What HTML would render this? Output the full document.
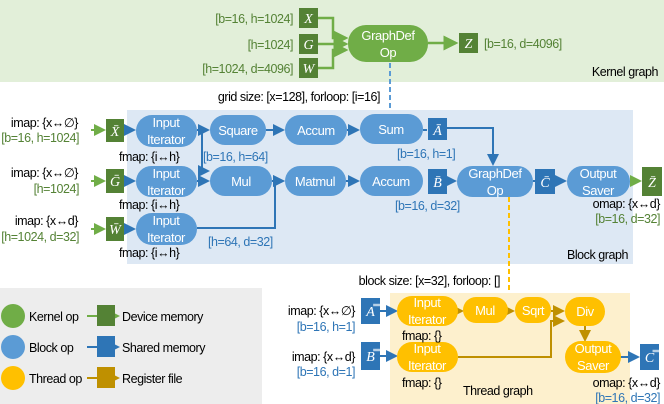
<!DOCTYPE html>
<html><head><meta charset="utf-8"><style>
body{margin:0;background:#fff}
svg{display:block}
text{font-family:"Liberation Sans",Arial,sans-serif;font-size:12.5px;letter-spacing:-0.45px}
.w{fill:#fff;text-anchor:middle;font-size:13px;letter-spacing:-0.4px}
.k{fill:#000}
.g{fill:#548235}
.b{fill:#2e75b6}
.m{font-family:"Liberation Serif",serif;font-style:italic;fill:#fff;text-anchor:middle;font-size:14px;letter-spacing:0}
</style></head><body>
<svg width="664" height="404" viewBox="0 0 664 404" xmlns="http://www.w3.org/2000/svg">
<defs>
<marker id="ag" markerWidth="6" markerHeight="6" refX="5" refY="3" orient="auto"><path d="M0,0L6,3L0,6z" fill="#70ad47"/></marker>
<marker id="ab" markerWidth="6" markerHeight="6" refX="5" refY="3" orient="auto"><path d="M0,0L6,3L0,6z" fill="#2e75b6"/></marker>
<marker id="ao" markerWidth="6" markerHeight="6" refX="5" refY="3" orient="auto"><path d="M0,0L6,3L0,6z" fill="#bf9000"/></marker>
</defs>
<rect x="0" y="0" width="664" height="82" fill="#e2efd9"/>
<rect x="127" y="110" width="506" height="154" fill="#dde8f4"/>
<rect x="390" y="293" width="240" height="111" fill="#fdf0cd"/>
<rect x="0" y="288" width="262" height="116" fill="#ededed"/>
<g fill="none" stroke="#70ad47" stroke-width="2.5">
<path d="M318,18H333V38H346" marker-end="url(#ag)"/>
<path d="M318,44H346" marker-end="url(#ag)"/>
<path d="M318,68H333V50H346" marker-end="url(#ag)"/>
<path d="M428,43H456" marker-end="url(#ag)"/>
</g>
<rect x="348" y="25" width="80" height="37" rx="18" fill="#70ad47"/>
<text class="w" x="388" y="40">GraphDef</text><text class="w" x="388" y="57">Op</text>
<rect x="299" y="8" width="19" height="20" fill="#548235"/><text class="m" x="308.5" y="23">X</text>
<rect x="299" y="34" width="19" height="20" fill="#548235"/><text class="m" x="308.5" y="49">G</text>
<rect x="299" y="58" width="19" height="20" fill="#548235"/><text class="m" x="308.5" y="73">W</text>
<rect x="459" y="33" width="19" height="20" fill="#548235"/><text class="m" x="468.5" y="48">Z</text>
<text class="g" x="293" y="23" text-anchor="end">[b=16, h=1024]</text>
<text class="g" x="293" y="49" text-anchor="end">[h=1024]</text>
<text class="g" x="293" y="73" text-anchor="end">[h=1024, d=4096]</text>
<text class="g" x="484" y="48">[b=16, d=4096]</text>
<text class="k" x="658" y="76" text-anchor="end">Kernel graph</text>
<line x1="390" y1="63" x2="390" y2="110" stroke="#5b9bd5" stroke-width="2" stroke-dasharray="5,3"/>
<text class="k" x="380" y="101" text-anchor="end">grid size: [x=128], forloop: [i=16]</text>
<g fill="none" stroke="#2e75b6" stroke-width="2">
<path d="M124,130H134" marker-end="url(#ab)"/>
<path d="M124,181H134" marker-end="url(#ab)"/>
<path d="M124,229H134" marker-end="url(#ab)"/>
<path d="M197,130H208" marker-end="url(#ab)"/>
<path d="M202,130V171H208" marker-end="url(#ab)"/>
<path d="M197,181H208" marker-end="url(#ab)"/>
<path d="M266,130H283" marker-end="url(#ab)"/>
<path d="M347,130H358" marker-end="url(#ab)"/>
<path d="M423,130H427"/>
<path d="M447,128H493V164" marker-end="url(#ab)"/>
<path d="M272,181H283" marker-end="url(#ab)"/>
<path d="M197,228H275V181H283" marker-end="url(#ab)"/>
<path d="M346,181H358" marker-end="url(#ab)"/>
<path d="M447,181H455" marker-end="url(#ab)"/>
<path d="M533,181H535"/>
<path d="M555,181H565" marker-end="url(#ab)"/>
</g>
<path d="M630,181H640" stroke="#70ad47" stroke-width="2" marker-end="url(#ag)"/>
<path d="M91,130H104" stroke="#70ad47" stroke-width="2" marker-end="url(#ag)" fill="none"/>
<path d="M91,181H104" stroke="#70ad47" stroke-width="2" marker-end="url(#ag)" fill="none"/>
<path d="M91,229H104" stroke="#70ad47" stroke-width="2" marker-end="url(#ag)" fill="none"/>
<g fill="#5b9bd5">
<rect x="136" y="115" width="61" height="32" rx="16"/>
<rect x="210" y="115" width="56" height="30" rx="15"/>
<rect x="285" y="115" width="62" height="30" rx="15"/>
<rect x="360" y="114" width="63" height="30" rx="15"/>
<rect x="136" y="166" width="61" height="31" rx="15.5"/>
<rect x="210" y="166" width="62" height="30" rx="15"/>
<rect x="285" y="166" width="61" height="30" rx="15"/>
<rect x="360" y="166" width="63" height="30" rx="15"/>
<rect x="457" y="166" width="76" height="31" rx="15.5"/>
<rect x="567" y="166" width="63" height="31" rx="15.5"/>
<rect x="136" y="213" width="61" height="32" rx="16"/>
</g>
<text class="w" x="166" y="127">Input</text><text class="w" x="166" y="144">Iterator</text>
<text class="w" x="238" y="135">Square</text>
<text class="w" x="316" y="135">Accum</text>
<text class="w" x="391" y="134">Sum</text>
<text class="w" x="166" y="178">Input</text><text class="w" x="166" y="195">Iterator</text>
<text class="w" x="241" y="186">Mul</text>
<text class="w" x="315" y="186">Matmul</text>
<text class="w" x="391" y="186">Accum</text>
<text class="w" x="495" y="178">GraphDef</text><text class="w" x="495" y="195">Op</text>
<text class="w" x="598" y="178">Output</text><text class="w" x="598" y="195">Saver</text>
<text class="w" x="166" y="225">Input</text><text class="w" x="166" y="242">Iterator</text>
<g fill="#2e75b6">
<rect x="428" y="118" width="19" height="22"/>
<rect x="428" y="169" width="19" height="25"/>
<rect x="535" y="169" width="20" height="25"/>
</g>
<text class="m" x="437.5" y="135">Ā</text>
<text class="m" x="437.5" y="187">B̄</text>
<text class="m" x="545" y="187">C̄</text>
<g fill="#548235">
<rect x="106" y="119" width="18" height="23"/>
<rect x="106" y="169" width="18" height="24"/>
<rect x="106" y="217" width="18" height="24"/>
<rect x="642" y="167" width="20" height="29"/>
</g>
<text class="m" x="115" y="136">X̄</text>
<text class="m" x="115" y="186">Ḡ</text>
<text class="m" x="115" y="234">W̄</text>
<text class="m" x="652" y="187">Z̄</text>
<text class="k" x="78" y="127" text-anchor="end">imap: {x↔∅}</text>
<text class="g" x="79" y="142" text-anchor="end">[b=16, h=1024]</text>
<text class="k" x="78" y="177" text-anchor="end">imap: {x↔∅}</text>
<text class="g" x="79" y="193" text-anchor="end">[h=1024]</text>
<text class="k" x="78" y="225" text-anchor="end">imap: {x↔d}</text>
<text class="g" x="79" y="241" text-anchor="end">[h=1024, d=32]</text>
<text class="k" x="119" y="161">fmap: {i↔h}</text>
<text class="k" x="119" y="209">fmap: {i↔h}</text>
<text class="k" x="119" y="257">fmap: {i↔h}</text>
<text class="b" x="203" y="161">[b=16, h=64]</text>
<text class="b" x="397" y="158">[b=16, h=1]</text>
<text class="b" x="395" y="210">[b=16, d=32]</text>
<text class="b" x="208" y="246">[h=64, d=32]</text>
<text class="k" x="660" y="208" text-anchor="end">omap: {x↔d}</text>
<text class="g" x="660" y="223" text-anchor="end">[b=16, d=32]</text>
<text class="k" x="628" y="259" text-anchor="end">Block graph</text>
<line x1="509" y1="197" x2="509" y2="293" stroke="#ffc000" stroke-width="2" stroke-dasharray="5,3"/>
<text class="k" x="500" y="285" text-anchor="end">block size: [x=32], forloop: []</text>
<g fill="none" stroke="#bf9000" stroke-width="2">
<path d="M458,311H462" marker-end="url(#ao)"/>
<path d="M508,311H513" marker-end="url(#ao)"/>
<path d="M551,311H563" marker-end="url(#ao)"/>
<path d="M458,357H551V321H563" marker-end="url(#ao)"/>
<path d="M585,325V340" marker-end="url(#ao)"/>
</g>
<path d="M380,311H396" stroke="#2e75b6" stroke-width="2" marker-end="url(#ab)"/>
<path d="M380,356H396" stroke="#2e75b6" stroke-width="2" marker-end="url(#ab)"/>
<path d="M620,357H638" stroke="#2e75b6" stroke-width="2" marker-end="url(#ab)"/>
<g fill="#ffc000">
<rect x="397" y="296" width="61" height="30" rx="15"/>
<rect x="463" y="297" width="45" height="26" rx="13"/>
<rect x="515" y="297" width="36" height="26" rx="13"/>
<rect x="565" y="297" width="40" height="29" rx="14.5"/>
<rect x="397" y="342" width="61" height="30" rx="15"/>
<rect x="565" y="341" width="56" height="32" rx="16"/>
</g>
<text class="w" x="427" y="307">Input</text><text class="w" x="427" y="324">Iterator</text>
<text class="w" x="485" y="315">Mul</text>
<text class="w" x="533" y="315">Sqrt</text>
<text class="w" x="585" y="316">Div</text>
<text class="w" x="427" y="353">Input</text><text class="w" x="427" y="370">Iterator</text>
<text class="w" x="593" y="353">Output</text><text class="w" x="593" y="370">Saver</text>
<g fill="#2e75b6">
<rect x="361" y="298" width="19" height="26"/>
<rect x="361" y="342" width="19" height="28"/>
<rect x="640" y="344" width="19" height="26"/>
</g>
<text class="m" x="370.5" y="316">A̿</text>
<text class="m" x="370.5" y="361">B̿</text>
<text class="m" x="649.5" y="362">C̿</text>
<text class="k" x="355" y="315" text-anchor="end">imap: {x↔∅}</text>
<text class="b" x="355" y="331" text-anchor="end">[b=16, h=1]</text>
<text class="k" x="355" y="361" text-anchor="end">imap: {x↔d}</text>
<text class="b" x="355" y="376" text-anchor="end">[b=16, d=1]</text>
<text class="k" x="402" y="340">fmap: {}</text>
<text class="k" x="402" y="387">fmap: {}</text>
<text class="k" x="660" y="387" text-anchor="end">omap: {x↔d}</text>
<text class="b" x="660" y="402" text-anchor="end">[b=16, d=32]</text>
<text class="k" x="463" y="395">Thread graph</text>
<circle cx="13" cy="316" r="12" fill="#70ad47"/>
<circle cx="13" cy="347" r="12" fill="#5b9bd5"/>
<circle cx="13" cy="378" r="12" fill="#ffc000"/>
<text class="k" x="29" y="321">Kernel op</text>
<text class="k" x="29" y="352">Block op</text>
<text class="k" x="29" y="383">Thread op</text>
<path d="M87,316H118" stroke="#70ad47" stroke-width="2" marker-end="url(#ag)"/>
<rect x="97" y="305" width="18" height="21" fill="#548235"/>
<path d="M87,347H118" stroke="#2e75b6" stroke-width="2" marker-end="url(#ab)"/>
<rect x="97" y="336" width="18" height="21" fill="#2e75b6"/>
<path d="M87,378H118" stroke="#bf9000" stroke-width="2" marker-end="url(#ao)"/>
<rect x="97" y="367" width="18" height="21" fill="#bf9000"/>
<text class="k" x="122" y="321">Device memory</text>
<text class="k" x="122" y="352">Shared memory</text>
<text class="k" x="122" y="383">Register file</text>
</svg>
</body></html>
